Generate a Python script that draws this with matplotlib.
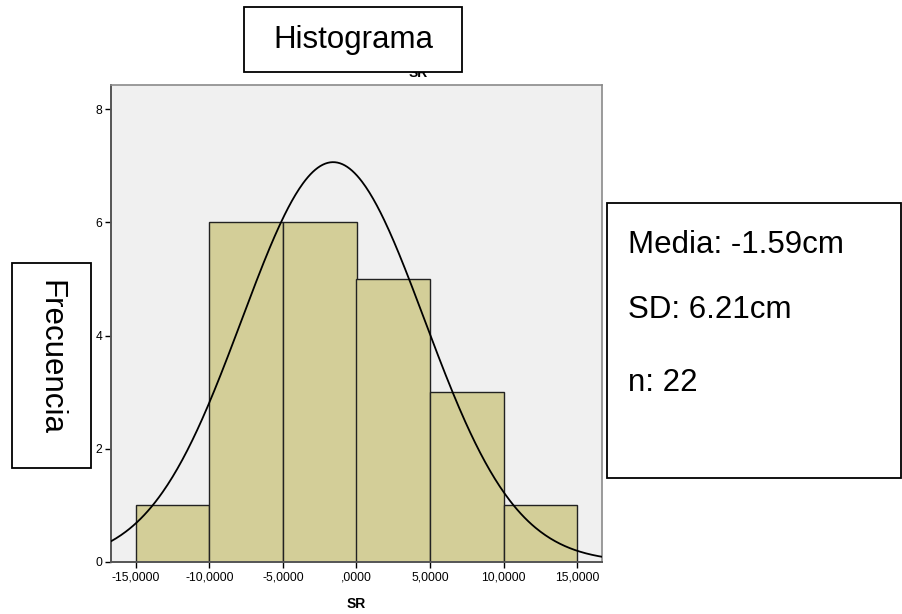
import numpy as np
import matplotlib.pyplot as plt
from matplotlib.patches import Rectangle

plt.rcParams['font.family'] = ['Liberation Sans', 'DejaVu Sans']

# ===============================
# Datos del histograma (SR)
# ===============================
bin_edges = [-15, -10, -5, 0, 5, 10, 15]
frecuencias = [1, 6, 6, 5, 3, 1]
media = -1.59
sd = 6.21
n = 22
x_ticks = [-15, -10, -5, 0, 5, 10, 15]
x_tick_labels = ["-15,0000", "-10,0000", "-5,0000", ",0000", "5,0000", "10,0000", "15,0000"]
y_ticks = [0, 2, 4, 6, 8]

W, H = 903, 614
fig = plt.figure(figsize=(W / 100, H / 100), dpi=100)

def fx(px):
    return px / W

def fy(py):
    return 1 - py / H

# eje principal (estilo SPSS)
ax = fig.add_axes([fx(111), fy(562), fx(602) - fx(111), fy(85) - fy(562)])
ax.set_facecolor("#f0f0f0")

ancho = bin_edges[1] - bin_edges[0]
ax.bar(bin_edges[:-1], frecuencias, width=ancho, align="edge",
       color="#d3ce98", edgecolor="#222222", linewidth=1.0, zorder=2)

# curva normal con media/SD/n
xs = np.linspace(-16.7, 16.7, 400)
ys = n * ancho / (sd * np.sqrt(2 * np.pi)) * np.exp(-0.5 * ((xs - media) / sd) ** 2)
ax.plot(xs, ys, color="black", linewidth=1.3, zorder=3)

ax.set_xlim(-16.7, 16.7)
ax.set_ylim(0, 8.43)
ax.set_xticks(x_ticks)
ax.set_xticklabels(x_tick_labels)
ax.set_yticks(y_ticks)
ax.tick_params(axis="both", direction="out", length=4.5, width=1.0,
               labelsize=8.7, colors="black", pad=2)

for lado in ["top", "right"]:
    ax.spines[lado].set_color("#8a8a8a")
    ax.spines[lado].set_linewidth(1.2)
for lado in ["left", "bottom"]:
    ax.spines[lado].set_color("#555555")
    ax.spines[lado].set_linewidth(1.4)

ax.set_xlabel("SR", fontsize=10, fontweight="bold", labelpad=10)

# título original de SPSS (tapado por el recuadro)
fig.text(fx(418), fy(73), "SR", fontsize=10, fontweight="bold",
         ha="center", va="center")

# ===============================
# Recuadros de texto
# ===============================
def recuadro(x0, y0, x1, y1):
    r = Rectangle((fx(x0), fy(y1)), fx(x1) - fx(x0), fy(y0) - fy(y1),
                  transform=fig.transFigure, facecolor="white",
                  edgecolor="black", linewidth=1.3, zorder=5)
    fig.add_artist(r)

recuadro(244, 7, 462, 72)
fig.text(fx(353), fy(40), "Histograma", fontsize=22.5, ha="center", va="center", zorder=6)

recuadro(12, 263, 91, 468)
fig.text(fx(50), fy(358), "Frecuencia", fontsize=22.5, rotation=-90,
         ha="center", va="center", zorder=6)

recuadro(607, 203, 901, 478)
fig.text(fx(628), fy(253), "Media: -1.59cm", fontsize=22.5, ha="left", va="baseline", zorder=6)
fig.text(fx(628), fy(318), "SD: 6.21cm", fontsize=22.5, ha="left", va="baseline", zorder=6)
fig.text(fx(628), fy(391), "n: 22", fontsize=22.5, ha="left", va="baseline", zorder=6)

plt.savefig("out.png", dpi=100)
